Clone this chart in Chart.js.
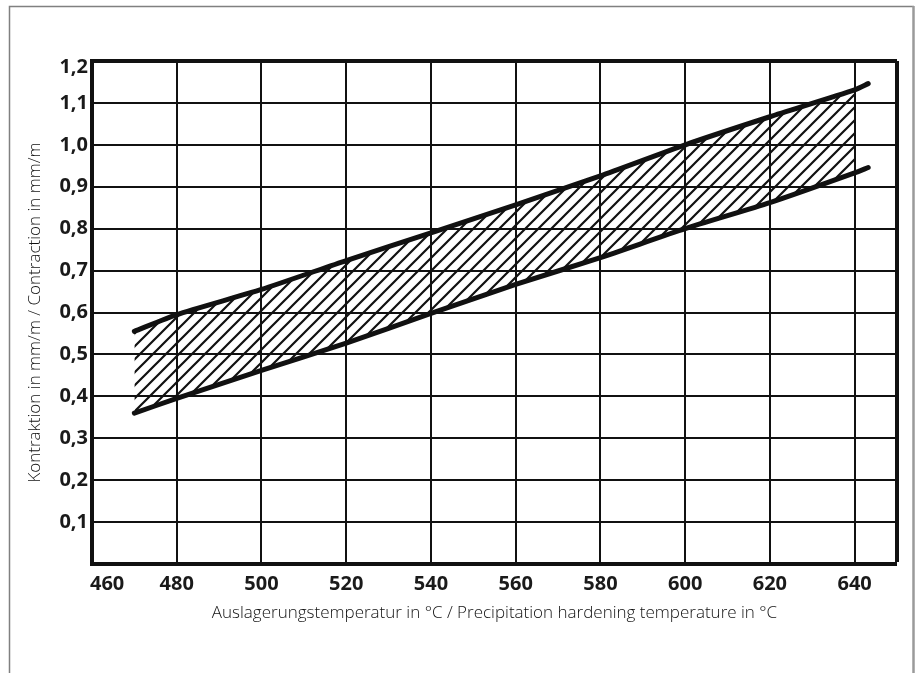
<!DOCTYPE html>
<html lang="de">
  <head>
    <meta charset="utf-8">
    <title>Kontraktion / Auslagerungstemperatur</title>
    <script src="https://cdn.jsdelivr.net/npm/chart.js@4.4.1/dist/chart.umd.min.js"></script>
    <style>
        html, body { margin: 0; padding: 0; background: #fff; }
        div.wrap { width: 916px; height: 673px; position: relative; }
    </style>
  </head>
  <body>
    <div class="wrap"><canvas id="chart"></canvas></div>

    <script>
        // values
        var temps      = [470, 480, 500, 520, 540, 560, 580, 600, 620, 640];
        var upperVals  = [0.555, 0.595, 0.655, 0.724, 0.79, 0.857, 0.926, 1.0, 1.067, 1.131];
        var lowerVals  = [0.36, 0.395, 0.462, 0.527, 0.598, 0.667, 0.731, 0.8, 0.862, 0.933];
        // lines run a little past the hatched band
        var endTemp    = 643.2;
        var upperEnd   = 1.146;
        var lowerEnd   = 0.946;

        var xTicks = [460, 480, 500, 520, 540, 560, 580, 600, 620, 640];
        var yTicks = [0.1, 0.2, 0.3, 0.4, 0.5, 0.6, 0.7, 0.8, 0.9, 1.0, 1.1, 1.2];

        var xTitle = 'Auslagerungstemperatur in °C / Precipitation hardening temperature in °C';
        var yTitle = 'Kontraktion in mm/m / Contraction in mm/m';

        function pts(xs, ys) {
            return xs.map(function (x, i) { return { x: x, y: ys[i] }; });
        }
        function fmt(v) { return v.toFixed(1).replace('.', ','); }
        function near(a, b) { return Math.abs(a - b) < 1e-6; }

        // diagonal hatch
        var tile = document.createElement('canvas');
        tile.width = 13; tile.height = 13;
        var t = tile.getContext('2d');
        t.strokeStyle = '#111';
        t.lineWidth = 2.2;
        t.beginPath();
        t.moveTo(-2, 15); t.lineTo(15, -2);
        t.moveTo(-2, 2); t.lineTo(2, -2);
        t.moveTo(11, 15); t.lineTo(15, 11);
        t.stroke();
        var hatch = t.createPattern(tile, 'repeat');

        var tickFont = { family: 'Open Sans', size: 20, weight: 'bold' };

        var framePlugin = {
            id: 'frame',
            beforeDraw: function (chart) {
                var c = chart.ctx;
                c.save();
                c.strokeStyle = '#808080';
                c.lineWidth = 1.5;
                c.beginPath();
                c.moveTo(9.5, 673); c.lineTo(9.5, 6.5); c.lineTo(914, 6.5);
                c.stroke();
                c.strokeStyle = '#9a9a9a';
                c.lineWidth = 2.5;
                c.beginPath();
                c.moveTo(913.5, 6); c.lineTo(913.5, 673);
                c.stroke();
                c.restore();
            },
            afterDraw: function (chart) {
                // edge labels sit inside, as in the print
                var c = chart.ctx, xs = chart.scales.x, ys = chart.scales.y;
                c.save();
                c.fillStyle = '#1a1a1a';
                c.font = 'bold 20px "Open Sans"';
                c.textBaseline = 'middle';
                c.textAlign = 'left';
                c.fillText(String(xTicks[0]), xs.getPixelForValue(xTicks[0]) - 2, xs.top + 20);
                c.textAlign = 'right';
                c.fillText(fmt(yTicks[yTicks.length - 1]), ys.right - 4, ys.getPixelForValue(1.2) + 6);
                c.restore();
            }
        };

        new Chart(document.getElementById('chart'), {
            type: 'line',
            data: {
                datasets: [
                    {
                        data: pts(temps.concat([endTemp]), upperVals.concat([upperEnd])),
                        borderColor: '#111', borderWidth: 5, borderCapStyle: 'round',
                        pointRadius: 0, tension: 0.2, fill: false
                    },
                    {
                        data: pts(temps.concat([endTemp]), lowerVals.concat([lowerEnd])),
                        borderColor: '#111', borderWidth: 5, borderCapStyle: 'round',
                        pointRadius: 0, tension: 0.2, fill: false
                    },
                    {
                        data: pts(temps, upperVals),
                        borderWidth: 0, pointRadius: 0, tension: 0.2,
                        backgroundColor: hatch, fill: '+1'
                    },
                    {
                        data: pts(temps, lowerVals),
                        borderWidth: 0, pointRadius: 0, tension: 0.2, fill: false
                    }
                ]
            },
            options: {
                responsive: true,
                maintainAspectRatio: false,
                animation: false,
                events: [],
                layout: { padding: { left: 0, top: 61, right: 19, bottom: 0 } },
                plugins: { legend: { display: false }, tooltip: { enabled: false } },
                scales: {
                    x: {
                        type: 'linear',
                        min: 460, max: 650,
                        afterFit: function (s) { s.height = 109; },
                        afterBuildTicks: function (s) {
                            s.ticks = xTicks.concat([650]).map(function (v) { return { value: v }; });
                        },
                        ticks: {
                            padding: 8,
                            font: tickFont, color: '#1a1a1a',
                            maxRotation: 0, autoSkip: false,
                            callback: function (v) { return (v === 650 || v === 460) ? '' : String(v); }
                        },
                        grid: {
                            drawTicks: false, color: '#111',
                            lineWidth: function (ctx) {
                                var v = ctx.tick ? ctx.tick.value : 0;
                                if (v === 460) return 0;
                                return v === 650 ? 4 : 2;
                            }
                        },
                        border: { display: true, color: '#111', width: 4 },
                        title: {
                            display: true, text: xTitle, color: '#111',
                            font: { family: 'Open Sans', size: 17, weight: '300' },
                            padding: { top: 0, bottom: 50 }
                        }
                    },
                    y: {
                        min: 0, max: 1.2,
                        afterFit: function (s) { s.width = 92; },
                        afterBuildTicks: function (s) {
                            s.ticks = [0].concat(yTicks).map(function (v) { return { value: v }; });
                        },
                        ticks: {
                            padding: 4,
                            font: tickFont, color: '#1a1a1a',
                            callback: function (v) { return (v === 0 || near(v, 1.2)) ? '' : fmt(v); }
                        },
                        grid: {
                            drawTicks: false, color: '#111',
                            lineWidth: function (ctx) {
                                var v = ctx.tick ? ctx.tick.value : 0;
                                if (v === 0) return 0;
                                return near(v, 1.2) ? 4 : 2;
                            }
                        },
                        border: { display: true, color: '#111', width: 4 },
                        title: {
                            display: true, text: yTitle, color: '#111',
                            font: { family: 'Open Sans', size: 17, weight: '300' },
                            padding: { top: 25, bottom: 0 }
                        }
                    }
                }
            },
            plugins: [framePlugin]
        });
    </script>
  </body>
</html>
